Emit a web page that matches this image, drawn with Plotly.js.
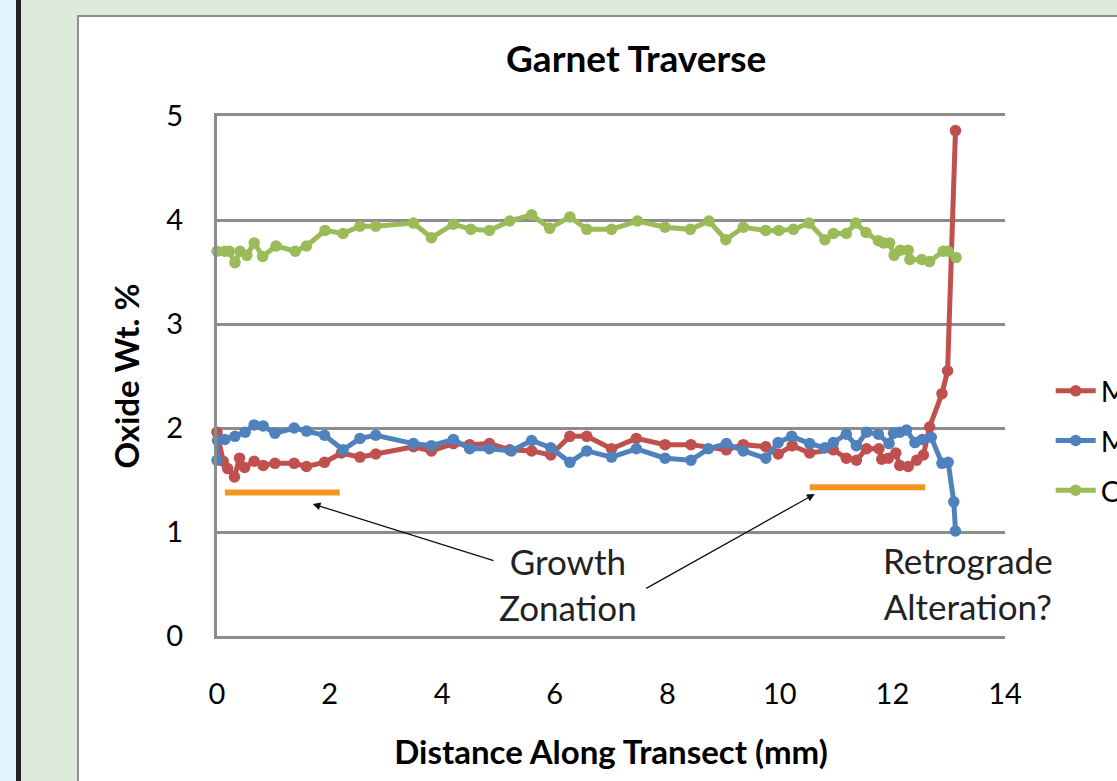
<!DOCTYPE html>
<html>
<head>
<meta charset="utf-8">
<script src="https://cdn.plot.ly/plotly-3.0.1.min.js"></script>
<style>
  html, body { margin: 0; padding: 0; width: 1117px; height: 781px; overflow: hidden; background: #dcebd9; }
  #blue { position: absolute; left: 0; top: 0; width: 16px; height: 781px; background: #e1f3fb; }
  #black { position: absolute; left: 16px; top: 0; width: 5px; height: 781px; background: #222; }
  #chart { position: absolute; left: 77px; top: 15px; width: 1038px; height: 764px; background: #fff;
           border-left: 2px solid #8e8e8e; border-top: 2px solid #8e8e8e; overflow: hidden; }
</style>
</head>
<body>
<div id="blue"></div>
<div id="black"></div>
<div id="chart"></div>
<script>
// Series data (distance in mm, oxide wt. %)
const mnoX = [0, 0.11, 0.19, 0.31, 0.40, 0.49, 0.66, 0.82, 1.03, 1.37, 1.59, 1.91, 2.21, 2.54, 2.82, 3.49, 3.81, 4.20, 4.49, 4.84, 5.20, 5.59, 5.93, 6.27, 6.57, 7.01, 7.45, 7.96, 8.42, 9.05, 9.35, 9.75, 9.97, 10.22, 10.53, 10.95, 11.18, 11.36, 11.54, 11.76, 11.81, 11.93, 12.06, 12.13, 12.28, 12.43, 12.55, 12.66, 12.88, 12.98, 13.12];
const mnoY = [1.96, 1.68, 1.61, 1.53, 1.71, 1.62, 1.68, 1.64, 1.66, 1.66, 1.63, 1.67, 1.76, 1.72, 1.75, 1.82, 1.78, 1.85, 1.84, 1.85, 1.79, 1.78, 1.74, 1.92, 1.92, 1.80, 1.90, 1.84, 1.84, 1.79, 1.84, 1.82, 1.75, 1.83, 1.76, 1.79, 1.71, 1.69, 1.80, 1.80, 1.70, 1.71, 1.76, 1.64, 1.63, 1.69, 1.74, 2.01, 2.33, 2.55, 4.86];

const mgoX = [0, 0.01, 0.14, 0.32, 0.50, 0.66, 0.82, 1.03, 1.37, 1.59, 1.91, 2.24, 2.54, 2.82, 3.49, 3.81, 4.20, 4.49, 4.84, 5.23, 5.59, 5.93, 6.27, 6.57, 7.01, 7.45, 7.96, 8.42, 8.73, 9.05, 9.35, 9.75, 9.97, 10.21, 10.53, 10.80, 10.95, 11.18, 11.36, 11.54, 11.75, 11.94, 12.02, 12.13, 12.25, 12.40, 12.53, 12.69, 12.88, 12.99, 13.09, 13.12];
const mgoY = [1.69, 1.88, 1.89, 1.92, 1.96, 2.03, 2.02, 1.95, 2.00, 1.97, 1.93, 1.79, 1.90, 1.93, 1.85, 1.83, 1.89, 1.80, 1.80, 1.78, 1.88, 1.81, 1.67, 1.78, 1.72, 1.80, 1.71, 1.69, 1.80, 1.85, 1.78, 1.71, 1.86, 1.92, 1.85, 1.81, 1.86, 1.94, 1.83, 1.96, 1.94, 1.85, 1.95, 1.96, 1.98, 1.86, 1.89, 1.91, 1.66, 1.67, 1.29, 1.01];

const caoX = [0, 0.14, 0.22, 0.32, 0.41, 0.53, 0.66, 0.81, 1.05, 1.39, 1.59, 1.92, 2.24, 2.54, 2.82, 3.49, 3.81, 4.20, 4.51, 4.84, 5.20, 5.59, 5.91, 6.27, 6.57, 7.01, 7.47, 7.96, 8.41, 8.74, 9.04, 9.35, 9.75, 9.98, 10.24, 10.52, 10.80, 10.95, 11.18, 11.35, 11.53, 11.75, 11.84, 11.95, 12.03, 12.14, 12.28, 12.31, 12.52, 12.66, 12.90, 12.99, 13.13];
const caoY = [3.70, 3.70, 3.70, 3.59, 3.70, 3.66, 3.78, 3.65, 3.75, 3.70, 3.75, 3.90, 3.87, 3.94, 3.94, 3.97, 3.83, 3.96, 3.91, 3.90, 3.99, 4.05, 3.92, 4.03, 3.91, 3.91, 3.99, 3.93, 3.91, 3.99, 3.81, 3.93, 3.90, 3.90, 3.91, 3.97, 3.81, 3.87, 3.87, 3.97, 3.88, 3.80, 3.78, 3.78, 3.66, 3.71, 3.71, 3.62, 3.62, 3.60, 3.70, 3.70, 3.64];

const seriesNames = ["MnO", "MgO", "CaO"];
const xTicks = [0, 2, 4, 6, 8, 10, 12, 14];
const yTicks = [0, 1, 2, 3, 4, 5];

// Zonation bars: [x0, x1, y]
const zone1 = [0.14, 2.18, 1.38];
const zone2 = [10.53, 12.58, 1.43];

const FONT = "Lato, 'Open Sans', sans-serif";

function trace(x, y, name, color, group) {
  return {
    x: x, y: y, name: name, type: "scatter", mode: "lines+markers",
    line: { color: color, width: 5 },
    marker: { color: color, size: 11.5 },
    legendgroup: group, cliponaxis: false
  };
}

const data = [
  trace(mnoX, mnoY, seriesNames[0], "#c0504d", "a"),
  trace(mgoX, mgoY, seriesNames[1], "#4f81bd", "b"),
  trace(caoX, caoY, seriesNames[2], "#9bbb59", "c")
];

const layout = {
  width: 1038, height: 764,
  margin: { l: 138, r: 112, t: 99, b: 145, autoexpand: false },
  paper_bgcolor: "#ffffff", plot_bgcolor: "#ffffff",
  font: { family: FONT, color: "#000", size: 28 },
  title: { text: "<b>Garnet Traverse</b>", font: { family: FONT, size: 37, color: "#000" },
           x: 0.532, xanchor: "center", y: 0.945, yanchor: "middle", xref: "paper" },
  xaxis: {
    range: [0, 14], tickvals: xTicks, ticktext: xTicks.map(String),
    showgrid: false, zeroline: false,
    showline: true, mirror: true, linecolor: "#8c8c8c", linewidth: 3,
    ticks: "", ticklabelstandoff: 30,
    tickfont: { family: FONT, size: 29 },
    title: { text: "<b>Distance Along Transect (mm)</b>", font: { family: FONT, size: 33 }, standoff: 33 }
  },
  yaxis: {
    range: [0, 5], tickvals: yTicks, ticktext: yTicks.map(String),
    showgrid: true, gridcolor: "#8c8c8c", gridwidth: 3, zeroline: false,
    showline: true, linecolor: "#8c8c8c", linewidth: 3,
    ticks: "", ticklabelstandoff: 25,
    tickfont: { family: FONT, size: 29 },
    title: { text: "<b>Oxide Wt. %</b>", font: { family: FONT, size: 33 }, standoff: 17 }
  },
  showlegend: true,
  legend: {
    x: 1.058, xanchor: "left", y: 0.375, yanchor: "middle",
    font: { family: FONT, size: 29 }, tracegroupgap: 9, bgcolor: "rgba(0,0,0,0)",
    itemwidth: 40
  },
  shapes: [
    { type: "line", xref: "x", yref: "y", x0: zone1[0], x1: zone1[1], y0: zone1[2], y1: zone1[2], line: { color: "#f5951f", width: 6 } },
    { type: "line", xref: "x", yref: "y", x0: zone2[0], x1: zone2[1], y0: zone2[2], y1: zone2[2], line: { color: "#f5951f", width: 6 } }
  ],
  annotations: [
    { x: 1.70, y: 1.27, xref: "x", yref: "y", ax: 4.94, ay: 0.72, axref: "x", ayref: "y",
      text: "", showarrow: true, arrowhead: 2, arrowsize: 1.2, arrowwidth: 1.3, arrowcolor: "#111" },
    { x: 10.62, y: 1.365, xref: "x", yref: "y", ax: 7.60, ay: 0.45, axref: "x", ayref: "y",
      text: "", showarrow: true, arrowhead: 2, arrowsize: 1.2, arrowwidth: 1.3, arrowcolor: "#111" },
    { x: 6.23, y: 0.50, xref: "x", yref: "y", text: "Growth<br>Zonation", showarrow: false,
      font: { family: FONT, size: 35, color: "#222" }, xanchor: "center", yanchor: "middle" },
    { x: 13.34, y: 0.51, xref: "x", yref: "y", text: "Retrograde<br>Alteration?", showarrow: false,
      font: { family: FONT, size: 35, color: "#222" }, xanchor: "center", yanchor: "middle" }
  ]
};

Plotly.newPlot("chart", data, layout, { displayModeBar: false, staticPlot: true });
</script>
</body>
</html>
